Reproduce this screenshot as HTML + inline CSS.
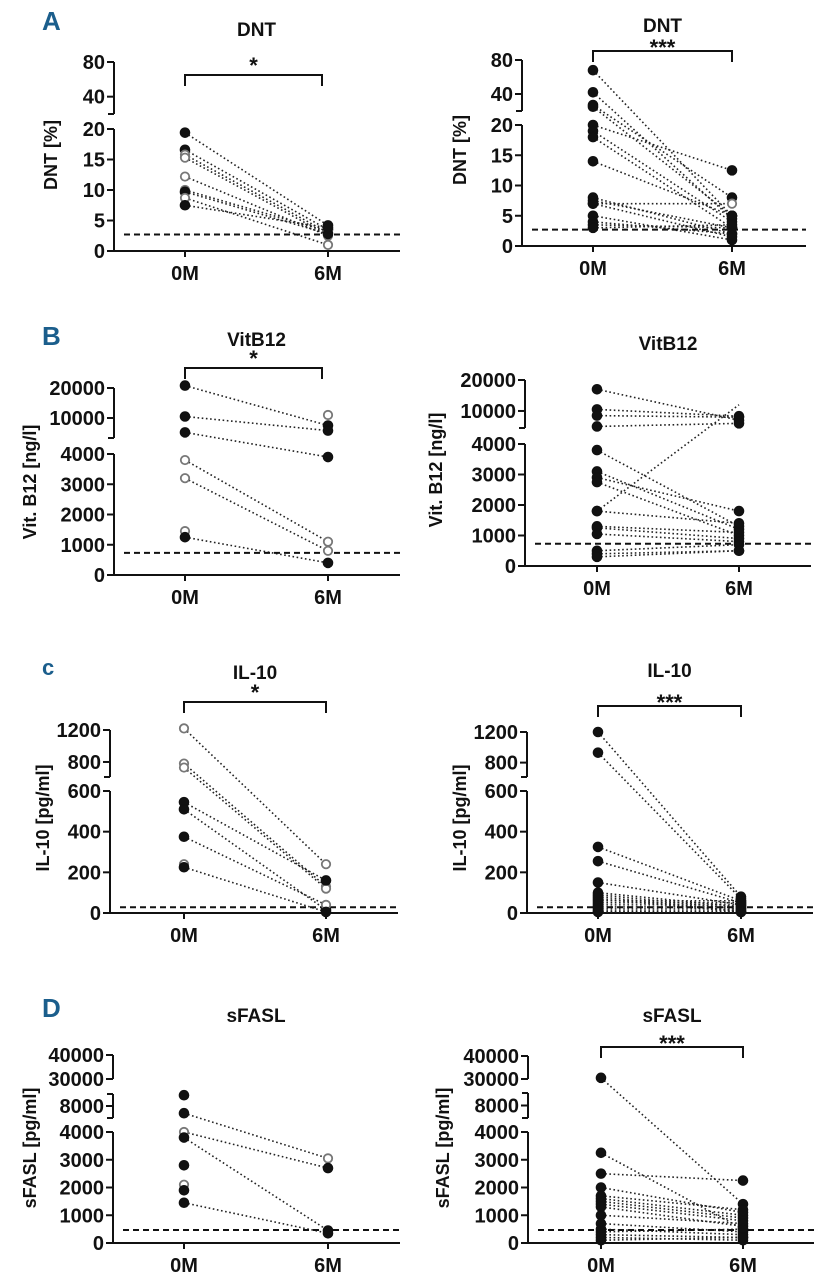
<!DOCTYPE html>
<html><head><meta charset="utf-8">
<style>
html,body{margin:0;padding:0;background:#fff;}
svg{display:block;}
text{font-family:"Liberation Sans",Arial,sans-serif;font-weight:bold;fill:#111;}
.lab{font-family:"Liberation Sans Narrow","Liberation Sans",sans-serif;fill:#1b5e8c;font-size:26px;}
</style></head>
<body>
<svg id="fig" width="822" height="1280" viewBox="0 0 822 1280" xmlns="http://www.w3.org/2000/svg">
<text class="lab" x="42" y="30" transform="scale(1,1)">A</text>
<text class="lab" x="42" y="345">B</text>
<text class="lab" x="42" y="675" style="font-size:22px">c</text>
<text class="lab" x="42" y="1017">D</text>
</svg>
<script>
// ---------- DATA (0M value, 6M value, marker 0M, marker 6M; f=filled o=open) ----------
const categories = ["0M","6M"];

const dntL_0 = [19.4,16.6,15.8,15.3,12.2,10.0,9.7,8.7,7.5];
const dntL_6 = [4.2,3.5,3.0,2.6,2.5,3.2,2.8,1.0,3.8];
const dntL_m0 = ["f","f","o","o","o","o","f","o","f"];
const dntL_m6 = ["f","f","o","o","o","o","f","o","f"];

const dntR_0 = [68,42,27,25,20,19,18,14,8,7.5,7,7,5,4,3.5,3];
const dntR_6 = [5,4.5,8,5,12.5,4,3,5,2,3,1.5,7,1,2,3,3.5];
const dntR_m0 = ["f","f","f","f","f","f","f","f","f","f","f","f","f","f","f","f"];
const dntR_m6 = ["f","f","f","f","f","f","f","f","f","f","f","o","f","f","f","f"];

const b12L_0 = [20800,10500,5200,3800,3200,1450,1250,null];
const b12L_6 = [7500,5800,3900,1100,800,null,400,11000];
const b12L_m0 = ["f","f","f","o","o","o","f","f"];
const b12L_m6 = ["f","f","f","o","o","o","f","o"];

const b12R_0 = [17000,10500,8500,5000,3800,3100,2900,2750,1800,1800,1300,1250,1050,500,400,300];
const b12R_6 = [7000,8300,8000,6000,1300,1200,1800,1000,12000,1400,1100,900,800,700,500,500];
const b12R_m0 = ["f","f","f","f","f","f","f","f","f","f","f","f","f","f","f","f"];
const b12R_m6 = ["f","f","f","f","f","f","f","f","n","f","f","f","f","f","f","f"];

const il10L_0 = [1220,780,730,545,510,375,240,225];
const il10L_6 = [240,130,120,160,15,40,null,5];
const il10L_m0 = ["o","o","o","f","f","f","o","f"];
const il10L_m6 = ["o","o","o","f","f","o","o","f"];

const il10R_0 = [1200,930,325,255,150,100,90,80,70,60,50,40,30,20,10,5];
const il10R_6 = [80,70,60,50,40,30,20,10,5,60,50,40,30,20,10,5];
const il10R_m0 = ["f","f","f","f","f","f","f","f","f","f","f","f","f","f","f","f"];
const il10R_m6 = ["f","f","f","f","f","f","f","f","f","f","f","f","f","f","f","f"];

const fasL_0 = [9800,6800,4000,3800,2800,2100,1900,1450];
const fasL_6 = [null,3050,2700,450,null,null,null,350];
const fasL_m0 = ["f","f","o","f","f","o","f","f"];
const fasL_m6 = ["f","o","f","f","f","f","f","f"];

const fasR_0 = [30500,3250,2500,2000,1700,1600,1500,1400,1300,1000,700,500,400,300,200,100];
const fasR_6 = [1400,500,2250,1100,1200,1000,900,800,600,700,400,300,500,200,100,200];
const fasR_m0 = ["f","f","f","f","f","f","f","f","f","f","f","f","f","f","f","f"];
const fasR_m6 = ["f","f","f","f","f","f","f","f","f","f","f","f","f","f","f","f"];

const dntTicks = [0,5,10,15,20,40,80];
const b12Ticks = [0,1000,2000,3000,4000,10000,20000];
const il10Ticks = [0,200,400,600,800,1200];
const fasTicks = [0,1000,2000,3000,4000,8000,30000,40000];

const dntCutoff = 2.7, b12Cutoff = 730, il10Cutoff = 28, fasCutoff = 470;

// ---------- GEOMETRY ----------
const NS = "http://www.w3.org/2000/svg";
const svg = document.getElementById("fig");
function el(tag, attrs, parent){
  const e = document.createElementNS(NS, tag);
  for (const k in attrs) e.setAttribute(k, attrs[k]);
  (parent||svg).appendChild(e);
  return e;
}
function makeY(segs){
  return function(v){
    for (let i=0;i<segs.length;i++){
      const s=segs[i];
      if (v<=s[1] || i===segs.length-1){
        if (v<s[0] && i>0){ const p=segs[i-1]; return p[3]+(v-p[1])/(s[0]-p[1])*(s[2]-p[3]); }
        return s[2]+(v-s[0])/(s[1]-s[0])*(s[3]-s[2]);
      }
    }
  };
}

function panel(id, g, d){
  const grp = el("g", {});
  
  
  const y = makeY(g.segs);
  const xs = [g.x0, g.x6];
  // title
  const t = el("text", {x:(g.x0+g.x6)/2, y:g.titleY, "text-anchor":"middle", "font-size":"19"}, grp);
  t.textContent = g.title;
  
  
  // y axis title
  const yt = el("text", {x:0,y:0,"text-anchor":"middle","font-size":"18",transform:`translate(${g.ytX},${g.ytY}) rotate(-90)`}, grp);
  yt.textContent = g.ytitle;
  
  
  // axis segments
  g.segs.forEach((s,i)=>{
    const ln = el("line",{x1:g.ax,x2:g.ax,y1:s[2]+(i===0?1:0),y2:s[3],stroke:"#111","stroke-width":"2"},grp);
    
    
    [s[2],s[3]].forEach(yy=>{ if(i>0||yy!==s[2]) el("line",{x1:g.ax-6,x2:g.ax,y1:yy,y2:yy,stroke:"#111","stroke-width":"2"},grp); });
  });
  // ticks
  g.ticks.forEach(v=>{
    const yy=y(v);
    const tk = el("line",{x1:g.ax-7,x2:g.ax,y1:yy,y2:yy,stroke:"#111","stroke-width":"2"},grp);
    
    
    const tl = el("text",{x:g.ax-9,y:yy+7,"text-anchor":"end","font-size":"20"},grp);
    tl.textContent = String(v);
    
    
  });
  // x axis
  const xa = el("line",{x1:g.ax-1,x2:g.xEnd,y1:g.segs[0][2],y2:g.segs[0][2],stroke:"#111","stroke-width":"2"},grp);
  
  
  categories.forEach((c,i)=>{
    el("line",{x1:xs[i],x2:xs[i],y1:g.segs[0][2],y2:g.segs[0][2]+6,stroke:"#111","stroke-width":"2"},grp);
    const xl = el("text",{x:xs[i],y:g.segs[0][2]+29,"text-anchor":"middle","font-size":"20"},grp);
    xl.textContent = c;
    
    
  });
  // pair lines
  d.v0.forEach((a,i)=>{
    const b=d.v6[i];
    if(a==null||b==null) return;
    const pl = el("line",{x1:g.x0,y1:y(a),x2:g.x6,y2:y(b),stroke:"#222","stroke-width":"1.6","stroke-dasharray":"1.6 2.6"},grp);
    
    
  });
  // break gaps
  for(let i=1;i<g.segs.length;i++){
    const top=g.segs[i][2], bot=g.segs[i-1][3];
    if(top-bot>2) el("rect",{x:g.ax+4,y:bot+3,width:g.xEnd-g.ax,height:top-bot-6,fill:"#fff"},grp);
  }
  // cutoff
  const cy=y(d.cut);
  const cl = el("line",{x1:g.ax-g.cutLeft,x2:g.xEnd,y1:cy,y2:cy,stroke:"#111","stroke-width":"2","stroke-dasharray":"6 4"},grp);
  
  
  // points
  [[d.v0,d.m0,0],[d.v6,d.m6,1]].forEach(([vals,ms,k])=>{
    vals.forEach((v,i)=>{
      if(v==null||ms[i]==="n") return;
      const open = ms[i]==="o";
      const c = el("circle",{cx:xs[k],cy:y(v),r:open?4.2:4.8,fill:open?"#fff":"#111",stroke:open?"#777":"#111","stroke-width":open?"1.8":"1"},grp);
      
      
    });
  });
  // bracket
  if(g.stars){
    const br = el("path",{d:`M${g.x0} ${g.brY+11} V${g.brY} H${g.brEnd} V${g.brY+11}`,fill:"none",stroke:"#111","stroke-width":"2"},grp);
    
    
    const st = el("text",{x:(g.x0+g.brEnd)/2,y:g.brY+(g.stars.length>1?4:-2),"text-anchor":"middle","font-size":"22"},grp);
    st.textContent = g.stars;
    
    
  }
}

panel("dnt-left",{title:"DNT",titleY:36,ytitle:"DNT [%]",ytX:57,ytY:155,ax:114,x0:185,x6:328,xEnd:400,cutLeft:-10,
  segs:[[0,20,251,129],[20,80,114,62]],ticks:dntTicks,stars:"*",brY:75,brEnd:322},
  {v0:dntL_0,v6:dntL_6,m0:dntL_m0,m6:dntL_m6,cut:dntCutoff});
panel("dnt-right",{title:"DNT",titleY:32,ytitle:"DNT [%]",ytX:466,ytY:150,ax:522,x0:593,x6:732,xEnd:806,cutLeft:-10,
  segs:[[0,20,246,125],[20,80,111,60]],ticks:dntTicks,stars:"***",brY:51,brEnd:732},
  {v0:dntR_0,v6:dntR_6,m0:dntR_m0,m6:dntR_m6,cut:dntCutoff});
panel("vitb12-left",{title:"VitB12",titleY:346,ytitle:"Vit. B12 [ng/l]",ytX:36,ytY:482,ax:114,x0:185,x6:328,xEnd:400,cutLeft:-10,
  segs:[[0,4000,575,454],[3333,20000,438,388]],ticks:b12Ticks,stars:"*",brY:368,brEnd:322},
  {v0:b12L_0,v6:b12L_6,m0:b12L_m0,m6:b12L_m6,cut:b12Cutoff});
panel("vitb12-right",{title:"VitB12",titleY:350,ytitle:"Vit. B12 [ng/l]",ytX:442,ytY:470,ax:525,x0:597,x6:739,xEnd:811,cutLeft:-10,
  segs:[[0,4000,566,444],[4500,20000,428,380]],ticks:b12Ticks,stars:null},
  {v0:b12R_0,v6:b12R_6,m0:b12R_m0,m6:b12R_m6,cut:b12Cutoff});
panel("il10-left",{title:"IL-10",titleY:679,ytitle:"IL-10 [pg/ml]",ytX:49,ytY:818,ax:110,x0:184,x6:326,xEnd:398,cutLeft:-10,
  segs:[[0,600,913,791],[612,1200,777,730]],ticks:il10Ticks,stars:"*",brY:702,brEnd:326},
  {v0:il10L_0,v6:il10L_6,m0:il10L_m0,m6:il10L_m6,cut:il10Cutoff});
panel("il10-right",{title:"IL-10",titleY:677,ytitle:"IL-10 [pg/ml]",ytX:466,ytY:818,ax:527,x0:598,x6:741,xEnd:813,cutLeft:-10,
  segs:[[0,600,913,791],[612,1200,777,732]],ticks:il10Ticks,stars:"***",brY:706,brEnd:741},
  {v0:il10R_0,v6:il10R_6,m0:il10R_m0,m6:il10R_m6,cut:il10Cutoff});
panel("sfasl-left",{title:"sFASL",titleY:1022,ytitle:"sFASL [pg/ml]",ytX:36,ytY:1148,ax:113,x0:184,x6:328,xEnd:400,cutLeft:-10,
  segs:[[0,4000,1243,1132],[6000,10000,1118,1094],[30000,40000,1079,1055]],ticks:fasTicks,stars:null},
  {v0:fasL_0,v6:fasL_6,m0:fasL_m0,m6:fasL_m6,cut:fasCutoff});
panel("sfasl-right",{title:"sFASL",titleY:1022,ytitle:"sFASL [pg/ml]",ytX:449,ytY:1148,ax:528,x0:601,x6:743,xEnd:814,cutLeft:-10,
  segs:[[0,4000,1243,1132],[6000,10000,1118,1093],[30000,40000,1079,1056]],ticks:fasTicks,stars:"***",brY:1047,brEnd:743},
  {v0:fasR_0,v6:fasR_6,m0:fasR_m0,m6:fasR_m6,cut:fasCutoff});
</script>
</body></html>
